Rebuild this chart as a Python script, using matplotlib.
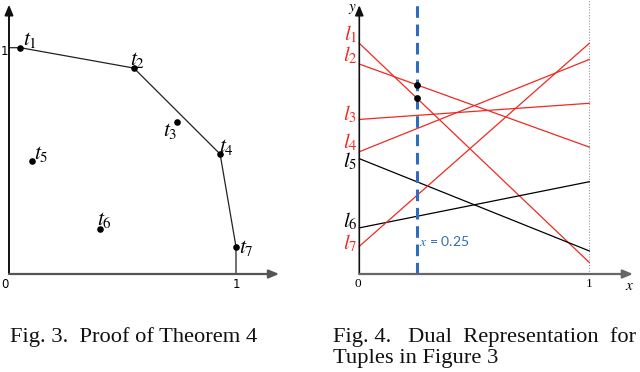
import matplotlib
matplotlib.use("Agg")
import matplotlib.pyplot as plt

# ---------------- data ----------------
tuple_labels = ["$t_1$", "$t_2$", "$t_3$", "$t_4$", "$t_5$", "$t_6$", "$t_7$"]
tuple_x = [0.05, 0.55, 0.74, 0.93, 0.10, 0.40, 1.00]
tuple_y = [1.00, 0.91, 0.67, 0.53, 0.50, 0.20, 0.12]
hull_idx = [0, 1, 3, 6]          # tuples on the skyline polyline
line_labels = ["$l_1$", "$l_2$", "$l_3$", "$l_4$", "$l_5$", "$l_6$", "$l_7$"]
line_is_red = [True, True, True, True, False, False, True]
query_x = 0.25
query_hits = [0, 1]              # dual lines marked at x = query_x
axis_ticks = ["0", "1"]

W, H = 640, 372
fig = plt.figure(figsize=(W / 100, H / 100), dpi=100)
plt.rcParams["mathtext.fontset"] = "stix"

RED = "#ee2a22"
BLUE = "#2f6dba"


def add_axes_px(x0px, y0px, ux, uy, xlim, ylim):
    """axes such that data (0,0) is at pixel (x0px, y0px) (y from top) and
    one data unit is ux / uy pixels."""
    left = x0px + xlim[0] * ux
    width = (xlim[1] - xlim[0]) * ux
    bottom_px = y0px - ylim[0] * uy
    height = (ylim[1] - ylim[0]) * uy
    ax = fig.add_axes([left / W, (H - bottom_px) / H, width / W, height / H])
    ax.set_xlim(*xlim)
    ax.set_ylim(*ylim)
    ax.axis("off")
    return ax


def arrow(ax, x0, y0, x1, y1, color, lw):
    ax.annotate("", xy=(x1, y1), xytext=(x0, y0),
                arrowprops=dict(arrowstyle="-|>,head_length=0.6,head_width=0.25",
                                color=color, lw=lw, shrinkA=0, shrinkB=0),
                annotation_clip=False)


# ---------------- left panel: Fig. 3 ----------------
axL = add_axes_px(9, 274, 227, 226.3, (-0.035, 1.25), (-0.1, 1.2))
arrow(axL, 0, 0, 0, 1.19, "#111111", 1.4)
arrow(axL, 0, 0, 1.19, 0, "#555555", 1.6)

hx = [0] + [tuple_x[i] for i in hull_idx] + [tuple_x[hull_idx[-1]]]
hy = [tuple_y[hull_idx[0]]] + [tuple_y[i] for i in hull_idx] + [0]
axL.plot(hx, hy, color="#222222", lw=0.9, clip_on=False)
axL.scatter(tuple_x, tuple_y, s=14, color="black", zorder=3, clip_on=False)

t_off = [(3, 8), (-4, 8), (-14, -9), (-1, 7), (2, 7), (-3, 9), (3, -1)]
for lab, x, y, off in zip(tuple_labels, tuple_x, tuple_y, t_off):
    axL.annotate(lab, (x, y), xytext=off, textcoords="offset pixels",
                 ha="left", va="center", fontsize=15.5, color="black",
                 annotation_clip=False)

axL.annotate(axis_ticks[0], (0, 0), xytext=(-4, -10), textcoords="offset pixels",
             ha="center", va="center", fontsize=8.5, family="DejaVu Sans")
axL.annotate(axis_ticks[1], (1, 0), xytext=(0, -10), textcoords="offset pixels",
             ha="center", va="center", fontsize=8.5, family="DejaVu Sans")
axL.annotate(axis_ticks[1], (0, 1), xytext=(-5, -4), textcoords="offset pixels",
             ha="center", va="center", fontsize=8.5, family="DejaVu Sans")

# ---------------- right panel: Fig. 4 (dual lines) ----------------
axR = add_axes_px(359.3, 274, 230, 230.7, (-0.02, 1.2), (-0.1, 1.19))
arrow(axR, 0, 0, 0, 1.165, "#111111", 1.2)
arrow(axR, 0, 0, 1.19, 0, "#666666", 1.6)
axR.plot([1, 1], [0, 1.19], color="#999999", lw=0.8, ls=(0, (1, 1.5)), clip_on=False)

for i, (x, y) in enumerate(zip(tuple_x, tuple_y)):
    c = RED if line_is_red[i] else "black"
    axR.plot([0, 1], [y, x], color=c, lw=0.9, clip_on=False)

axR.plot([query_x, query_x], [0, 1.19], color=BLUE, lw=2.2, ls=(0, (3.8, 2.2)),
         clip_on=False, zorder=2)
qy = [tuple_y[i] * (1 - query_x) + tuple_x[i] * query_x for i in query_hits]
axR.scatter([query_x] * len(qy), qy, s=15, color="black", zorder=4)
axR.annotate("$x$ = 0.25", (query_x, 0), xytext=(2, 33), textcoords="offset pixels",
             ha="left", va="center", fontsize=10, color=BLUE, family="Lato")

l_off = [(-2, 9), (-2, 9), (-2, 5), (-2, 10), (-2, -3), (-2, 7), (-2, 3)]
for i, (lab, y, off) in enumerate(zip(line_labels, tuple_y, l_off)):
    c = RED if line_is_red[i] else "black"
    axR.annotate(lab, (0, y), xytext=off, textcoords="offset pixels",
                 ha="right", va="center", fontsize=15, color=c,
                 annotation_clip=False)

axR.annotate(axis_ticks[0], (0, 0), xytext=(-1, -10), textcoords="offset pixels",
             ha="center", va="center", fontsize=9.5, family="Liberation Serif")
axR.annotate(axis_ticks[1], (1, 0), xytext=(0, -10), textcoords="offset pixels",
             ha="center", va="center", fontsize=9.5, family="Liberation Serif")
axR.annotate("$x$", (1.19, 0), xytext=(-3, -12), textcoords="offset pixels",
             ha="center", va="center", fontsize=11)
axR.annotate("$y$", (0, 1.165), xytext=(-7, -3), textcoords="offset pixels",
             ha="center", va="center", fontsize=11)

# ---------------- captions ----------------
cap = dict(family="Liberation Serif", fontsize=16.2, va="center", ha="left", color="#111111")
fig.text(10 / W, 1 - 337 / H, "Fig. 3.  Proof of Theorem 4", **cap)
fig.text(333 / W, 1 - 337 / H, "Fig. 4.   Dual  Representation  for", **cap)
fig.text(333 / W, 1 - 358 / H, "Tuples in Figure 3", **cap)

fig.savefig("out.png", dpi=100)
